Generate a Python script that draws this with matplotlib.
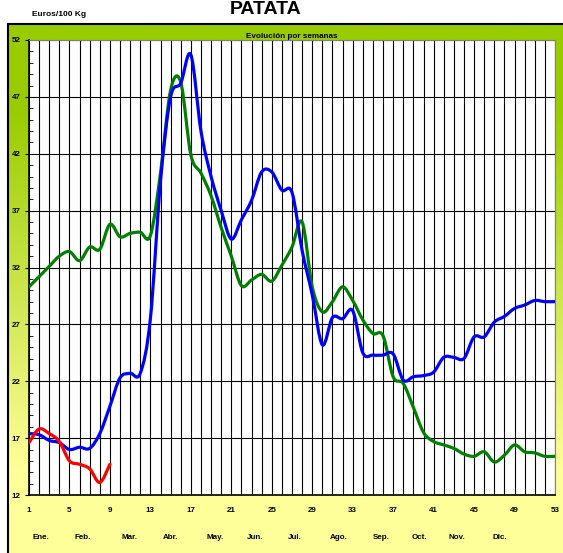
import numpy as np
import matplotlib
matplotlib.use('Agg')
import matplotlib.pyplot as plt
from matplotlib.path import Path
from matplotlib.patches import PathPatch
from matplotlib.colors import to_rgb

plt.rcParams['font.family'] = ['Liberation Sans', 'DejaVu Sans']

# semanas del año
semanas = list(range(1, 54))

# precios (Euros/100 Kg)
serie_azul = [17.4, 17.3, 16.8, 16.6, 16.0, 16.2, 16.1, 17.4, 19.8, 22.3,
              22.7, 22.7, 27.5, 39.6, 47.0, 48.2, 50.7, 44.0, 40.0, 37.0,
              34.5, 36.2, 37.9, 40.4, 40.4, 38.8, 38.6, 33.5, 29.6, 25.2,
              27.6, 27.5, 28.2, 24.5, 24.3, 24.3, 24.4, 22.1, 22.4, 22.5,
              22.8, 24.1, 24.1, 24.0, 25.9, 25.9, 27.2, 27.7, 28.4, 28.7,
              29.1, 29.0, 29.0]
serie_verde = [30.3, 31.2, 32.1, 33.0, 33.4, 32.6, 33.8, 33.6, 35.8, 34.7,
               35.0, 35.1, 34.8, 40.3, 47.6, 48.3, 41.9, 40.3, 38.3, 35.5,
               33.0, 30.4, 30.9, 31.4, 30.8, 32.2, 33.8, 36.0, 30.3, 28.1,
               29.0, 30.3, 29.1, 27.4, 26.2, 26.0, 22.4, 21.8, 19.7, 17.5,
               16.7, 16.4, 16.1, 15.6, 15.4, 15.8, 14.9, 15.5, 16.4, 15.8,
               15.7, 15.4, 15.4]
serie_roja = [16.6, 17.8, 17.4, 16.7, 15.0, 14.7, 14.3, 13.1, 14.7]

meses = ['Ene.', 'Feb.', 'Mar.', 'Abr.', 'May.', 'Jun.',
         'Jul.', 'Ago.', 'Sep.', 'Oct.', 'Nov.', 'Dic.']
pos_meses = [2.15, 6.3, 10.9, 15.0, 19.4, 23.4, 27.3, 31.6, 35.8, 39.6, 43.3, 47.5]


def smooth_path(xs, ys):
    # curva suavizada tipo Excel (bezier cubico)
    p = np.column_stack([xs, ys]).astype(float)
    n = len(p)
    verts = [p[0]]
    codes = [Path.MOVETO]
    for i in range(n - 1):
        p0 = p[max(i - 1, 0)]
        p1 = p[i]
        p2 = p[i + 1]
        p3 = p[min(i + 2, n - 1)]
        verts += [p1 + (p2 - p0) / 6, p2 - (p3 - p1) / 6, p2]
        codes += [Path.CURVE4] * 3
    return Path(verts, codes)


W, H = 563, 553
fig = plt.figure(figsize=(W / 100, H / 100), dpi=100)

# fondo degradado verde -> amarillo
bg = fig.add_axes([8 / W, 0, (W - 8) / W, (H - 24) / H])
green = np.array(to_rgb('#99cc00'))
yellow = np.array(to_rgb('#ffff99'))
yy = np.linspace(24, H, 400)
t = np.clip((yy - 110) / (470 - 110), 0, 1)[:, None]
grad = green * (1 - t) + yellow * t
bg.imshow(grad[:, None, :], aspect='auto', extent=[0, 1, 0, 1])
bg.set_xticks([])
bg.set_yticks([])
for s in ['right', 'bottom']:
    bg.spines[s].set_visible(False)
for s in ['left', 'top']:
    bg.spines[s].set_linewidth(1.5)
    bg.spines[s].set_color('black')

ax = fig.add_axes([29 / W, 58 / H, 526 / W, 455 / H])
ax.set_facecolor('white')
ax.set_xlim(1, 53)
ax.set_ylim(12, 52)

for w in semanas:
    ax.axvline(w, color='black', lw=0.8, zorder=1)
for v in range(17, 53, 5):
    ax.axhline(v, color='black', lw=0.8, zorder=1)

for serie, color in [(serie_verde, '#008000'), (serie_azul, '#0000ff'),
                     (serie_roja, '#ff0000')]:
    path = smooth_path(semanas[:len(serie)], serie)
    ax.add_patch(PathPatch(path, fill=False, edgecolor=color, lw=2.3,
                           capstyle='round', joinstyle='round', zorder=3))

ax.set_yticks(range(12, 53, 5))
ax.set_yticks(range(12, 53), minor=True)
ax.set_xticks(range(1, 54, 4))
ax.tick_params(axis='y', which='major', direction='out', length=3, pad=3,
               labelsize=5.8)
ax.tick_params(axis='y', which='minor', direction='in', length=3)
ax.tick_params(axis='x', which='major', length=0, pad=9, labelsize=5.8)
for lab in ax.get_xticklabels() + ax.get_yticklabels():
    lab.set_fontweight('bold')

ax.spines['left'].set_linewidth(1.2)
ax.spines['bottom'].set_linewidth(1.2)
ax.spines['top'].set_color('#808080')
ax.spines['right'].set_color('#808080')

for m, x in zip(meses, pos_meses):
    ax.text(x, -0.094, m, transform=ax.get_xaxis_transform(), ha='center',
            va='center', fontsize=5.8, fontweight='bold')

ax.text(0.5, 1.007, 'Evolución por semanas', transform=ax.transAxes,
        ha='center', va='center', fontsize=5.9, fontweight='bold')
fig.text(266 / W, 1 - 9 / H, 'PATATA', ha='center', va='center',
         fontsize=14, fontweight='bold')
fig.text(32 / W, 1 - 15 / H, 'Euros/100 Kg', ha='left', va='center',
         fontsize=6.0, fontweight='bold')

fig.savefig('out.png', dpi=100)
